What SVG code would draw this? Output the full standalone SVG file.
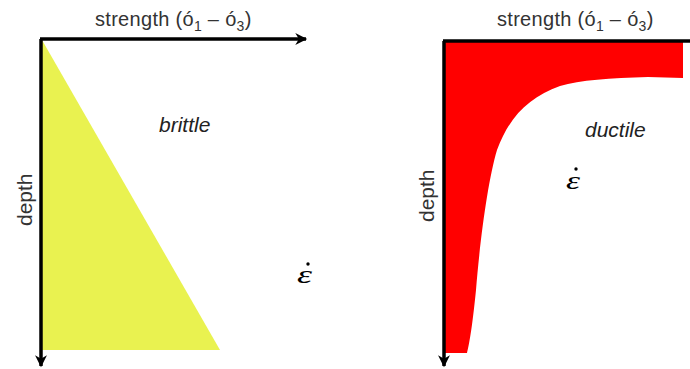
<svg xmlns="http://www.w3.org/2000/svg" width="690" height="369" viewBox="0 0 690 369">
<style>
.lbl{font-family:"Liberation Sans",Arial,sans-serif;font-size:20px;fill:#333;letter-spacing:0.3px}
.dep{font-family:"Liberation Sans",Arial,sans-serif;font-size:21px;fill:#333}
.it{font-family:"Liberation Sans",Arial,sans-serif;font-size:21px;font-style:italic;fill:#222}
.eps{font-family:"Liberation Serif","Times New Roman",serif;font-size:25px;font-style:italic;fill:#000}
.ax{stroke:#000;stroke-width:3.5;fill:none}
</style>
<defs>
<marker id="ah" viewBox="0 0 10 10" refX="9" refY="5" markerWidth="4" markerHeight="3.4" orient="auto" markerUnits="strokeWidth">
<path d="M0,0 L10,5 L0,10 L3,5 Z" fill="#000"/>
</marker>
</defs>
<g id="brittle-panel">
<polygon points="42,40 42,350 220,350" fill="#e9f250"/>
<text class="lbl" x="95" y="26">strength (ó<tspan font-size="14" dy="5">1</tspan><tspan dy="-5"> – ó</tspan><tspan font-size="14" dy="5">3</tspan><tspan dy="-5">)</tspan></text>
<text class="dep" transform="translate(32,226) rotate(-90)">depth</text>
<text class="it" x="159" y="132">brittle</text>
<text class="eps" x="297" y="283" textLength="15" lengthAdjust="spacingAndGlyphs">ε</text>
<circle cx="308" cy="264" r="1.7" fill="#000"/>
</g>
<g id="ductile-panel">
<path d="M445,42 L683,42 L683,78 L648,77 C610,78 580,80 560,86 C530,97 510,115 497,150 C488,180 480,240 476,290 C472,330 469,345 467,353 L445,353 Z" fill="#ff0000"/>
<text class="lbl" x="497" y="26">strength (ó<tspan font-size="14" dy="5">1</tspan><tspan dy="-5"> – ó</tspan><tspan font-size="14" dy="5">3</tspan><tspan dy="-5">)</tspan></text>
<text class="dep" transform="translate(434,222) rotate(-90)">depth</text>
<text class="it" x="585" y="137">ductile</text>
<text class="eps" x="566" y="189" textLength="14" lengthAdjust="spacingAndGlyphs">ε</text>
<circle cx="576" cy="169" r="1.7" fill="#000"/>
</g>
<g id="connectors">
<line class="ax" x1="41" y1="39" x2="41" y2="366" marker-end="url(#ah)"/>
<line class="ax" x1="40" y1="39" x2="306" y2="39" marker-end="url(#ah)"/>
<line class="ax" x1="444" y1="41" x2="444" y2="366" marker-end="url(#ah)"/>
<line class="ax" x1="443" y1="41" x2="690" y2="41"/>
</g>
</svg>
